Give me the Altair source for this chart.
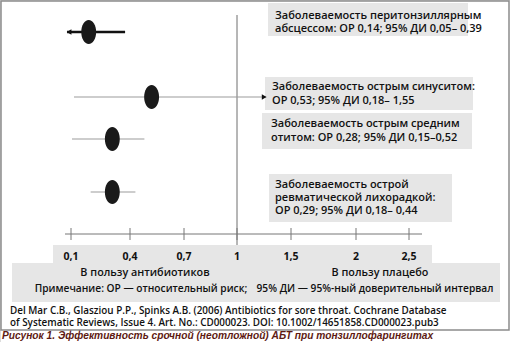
import altair as alt
import pandas as pd

# ---- data ----
outcomes = [
    "Перитонзиллярный абсцесс",
    "Острый синусит",
    "Острый средний отит",
    "Острая ревматическая лихорадка",
]
rows = [1, 2, 3, 4]
point_est = [0.19, 0.52, 0.31, 0.31]
ci_low = [0.08, 0.115, 0.105, 0.20]
ci_high = [0.375, 1.27, 0.48, 0.43]
arrow_side = ["left", "right", "", ""]

tick_values = [0.1, 0.4, 0.7, 1, 1.5, 2, 2.5]
tick_labels = ["0,1", "0,4", "0,7", "1", "1,5", "2", "2,5"]

annotations = [
    ["Заболеваемость перитонзиллярным", "абсцессом: ОР 0,14; 95% ДИ 0,05– 0,39"],
    ["Заболеваемость острым синуситом:", "ОР 0,53; 95% ДИ 0,18– 1,55"],
    ["Заболеваемость острым средним", "отитом: ОР 0,28; 95% ДИ 0,15–0,52"],
    ["Заболеваемость острой", "ревматической лихорадкой:", "ОР 0,29; 95% ДИ 0,18– 0,44"],
]
left_legend = ["В пользу антибиотиков", "Примечание: ОР —  относительный риск;"]
right_legend = ["В пользу плацебо", "95% ДИ — 95%-ный доверительный интервал"]
reference = [
    "Del Mar C.B., Glasziou P.P., Spinks A.B. (2006) Antibiotics for sore throat. Cochrane Database",
    "of Systematic Reviews, Issue 4. Art. No.: CD000023. DOI: 10.1002/14651858.CD000023.pub3",
]
caption = "Рисунок 1. Эффективность срочной (неотложной) АБТ при тонзиллофарингитах"

# ---- layout ----
W, H = 510, 342
X_RANGE = [71, 130, 184, 237, 291, 356, 409]
ROW_Y = [32, 97, 139, 192]
FONT = "Open Sans"
GRAY_BOX = "#e6e6e6"

xs = alt.Scale(domain=tick_values, range=X_RANGE, zero=False, nice=False)
ys = alt.Scale(domain=rows, range=ROW_Y, zero=False, nice=False)

df = pd.DataFrame({
    "outcome": outcomes, "row": rows, "or": point_est,
    "lo": ci_low, "hi": ci_high, "arrow": arrow_side,
})
ticks = pd.DataFrame({"v": tick_values, "label": tick_labels})

one = alt.Data(values=[{}])


def rect(x1, y1, x2, y2, fill=GRAY_BOX, stroke=None, sw=0):
    kw = dict(fill=fill)
    if stroke:
        kw.update(stroke=stroke, strokeWidth=sw, fill=None, filled=False)
    return alt.Chart(one).mark_rect(**kw).encode(
        x=alt.value(x1), x2=alt.value(x2), y=alt.value(y1), y2=alt.value(y2))


def text(s, x, y, size=10, align="left", weight=600, color="#111", font=FONT, style=None):
    kw = dict(align=align, baseline="middle", fontSize=size, fontWeight=weight,
              color=color, font=font)
    if style:
        kw["fontStyle"] = style
    return alt.Chart(one).mark_text(**kw).encode(
        x=alt.value(x), y=alt.value(y), text=alt.value(s))


layers = []
# outer frame
layers.append(rect(1, 1, 509, 330, stroke="#8c8c8c", sw=1.5))
# annotation boxes
layers.append(rect(268, 3, 468, 36))
layers.append(rect(265, 77, 473, 110))
layers.append(rect(262, 113, 472, 149))
layers.append(rect(269, 174, 452, 222))
# tick-label box and legend box
layers.append(rect(53, 245, 432, 263))
layers.append(rect(12, 263, 500, 302))

base = alt.Chart(df)
# vertical no-effect line
layers.append(alt.Chart(one).mark_rule(color="#6e6e6e", strokeWidth=1).encode(
    x=alt.datum(1, scale=xs), y=alt.value(15), y2=alt.value(245)))
# axis line
layers.append(alt.Chart(one).mark_rule(color="#777", strokeWidth=1).encode(
    x=alt.value(65), x2=alt.value(422), y=alt.value(234)))
# ticks
layers.append(alt.Chart(ticks).mark_rule(color="#777", strokeWidth=1).encode(
    x=alt.X("v:Q", scale=xs, axis=None), y=alt.value(228), y2=alt.value(240)))
layers.append(alt.Chart(ticks).mark_text(font=FONT, fontSize=10.5, fontWeight=700,
                                          color="#111", baseline="middle").encode(
    x=alt.X("v:Q", scale=xs, axis=None), y=alt.value(257), text="label:N"))
# CI lines
layers.append(base.mark_rule().encode(
    x=alt.X("lo:Q", scale=xs, axis=None), x2="hi:Q",
    y=alt.Y("row:Q", scale=ys, axis=None),
    color=alt.condition(alt.datum.row == 1, alt.value("#111"), alt.value("#9c9c9c")),
    strokeWidth=alt.condition(alt.datum.row == 1, alt.value(2.5), alt.value(1.2)),
))
# arrows
layers.append(base.transform_filter(alt.datum.arrow == "left").mark_point(
    shape="triangle-left", filled=True, color="#111", size=30, opacity=1, xOffset=2).encode(
    x=alt.X("lo:Q", scale=xs, axis=None), y=alt.Y("row:Q", scale=ys, axis=None)))
layers.append(base.transform_filter(alt.datum.arrow == "right").mark_point(
    shape="triangle-right", filled=True, color="#111", size=30, opacity=1, xOffset=-2).encode(
    x=alt.X("hi:Q", scale=xs, axis=None), y=alt.Y("row:Q", scale=ys, axis=None)))
# point estimates (ellipses)
ELLIPSE = "M0,-1A0.62,1,0,1,1,0,1A0.62,1,0,1,1,0,-1Z"
layers.append(base.mark_point(shape=ELLIPSE, filled=True, color="#1a1a1a",
                              size=576, opacity=1).encode(
    x=alt.X("or:Q", scale=xs, axis=None), y=alt.Y("row:Q", scale=ys, axis=None)))

# annotation texts
ann_pos = [(275, [16, 29]), (272, [87, 101]), (271, [124, 138]), (275, [185, 198, 211])]
for lines, (ax, yl) in zip(annotations, ann_pos):
    for s, yy in zip(lines, yl):
        layers.append(text(s, ax, yy, size=11))

# legend texts
layers.append(text(left_legend[0], 145, 273, size=10.8, align="center"))
layers.append(text(left_legend[1], 141, 289, size=10.2, align="center"))
layers.append(text(right_legend[0], 380, 273, size=10.8, align="center"))
layers.append(text(right_legend[1], 375, 289, size=10.2, align="center"))
# reference
layers.append(text(reference[0], 10, 311, size=9.9))
layers.append(text(reference[1], 10, 323, size=9.9))
# caption
layers.append(text(caption, 2, 336, size=10.2, weight=700, color="#5e1a12",
                   font="Liberation Sans", style="italic"))

chart = alt.layer(*layers).resolve_scale(x="independent", y="independent").properties(
    width=W, height=H, autosize=alt.AutoSizeParams(type="none"), padding=0,
).configure_view(stroke=None).configure(background="white")

chart.save("out.html", embed_options={"renderer": "svg", "actions": False})
